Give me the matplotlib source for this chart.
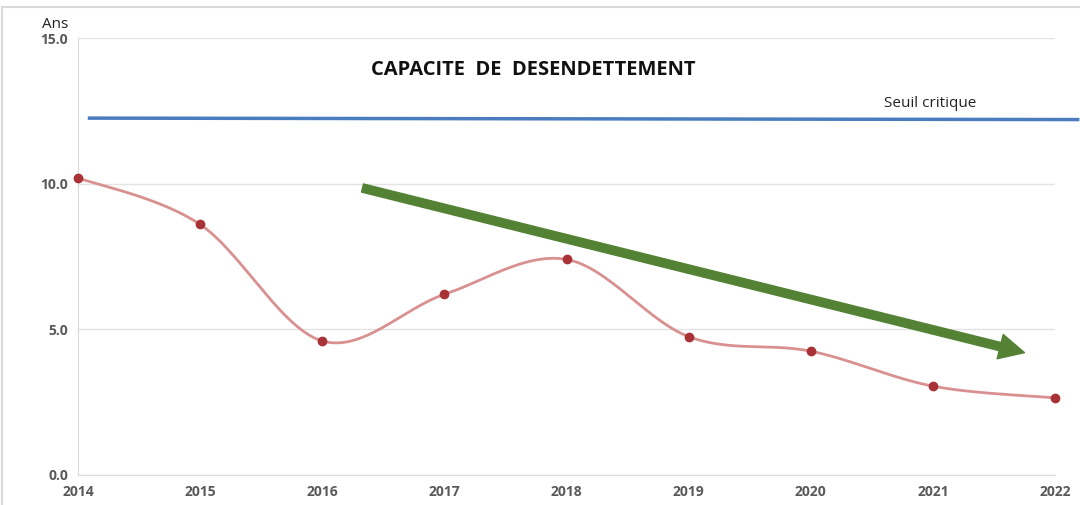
"""
Capacité de désendettement - recréation du graphique
"""

import matplotlib
matplotlib.use('Agg')
import matplotlib.pyplot as plt
from matplotlib.patches import Rectangle
import numpy as np

# données
annees = [2014, 2015, 2016, 2017, 2018, 2019, 2020, 2021, 2022]
capacite = [10.2, 8.6, 4.6, 6.2, 7.4, 4.75, 4.25, 3.05, 2.65]
seuil_debut, seuil_fin = 12.25, 12.2
fleche_debut = (2016.33, 9.85)
fleche_fin = (2021.75, 4.2)
yticks = [0, 5, 10, 15]

titre = 'CAPACITE  DE  DESENDETTEMENT'
label_seuil = 'Seuil critique'
label_axe = 'Ans'


def lisser(x, y, n=30):
    """Courbe lissée type Excel (Catmull-Rom) passant par les points"""
    x = np.asarray(x, float)
    y = np.asarray(y, float)
    px = np.concatenate([[x[0]], x, [x[-1]]])
    py = np.concatenate([[y[0]], y, [y[-1]]])
    xs, ys = [], []
    t = np.linspace(0, 1, n)
    for i in range(1, len(px) - 2):
        for p, out in ((px, xs), (py, ys)):
            p0, p1, p2, p3 = p[i - 1], p[i], p[i + 1], p[i + 2]
            m1 = (p2 - p0) / 2
            m2 = (p3 - p1) / 2
            h00 = 2 * t**3 - 3 * t**2 + 1
            h10 = t**3 - 2 * t**2 + t
            h01 = -2 * t**3 + 3 * t**2
            h11 = t**3 - t**2
            out.extend(h00 * p1 + h10 * m1 + h01 * p2 + h11 * m2)
    return np.array(xs), np.array(ys)


plt.rcParams['font.family'] = ['Open Sans', 'DejaVu Sans']

fig = plt.figure(figsize=(10.8, 5.05), dpi=100)
ax = fig.add_axes([78 / 1080, 30 / 505, 977 / 1080, 437 / 505])

# cadre extérieur gris
fig.patches.append(Rectangle((2 / 1080, -0.1), 1.2, (505 - 7) / 505 + 0.1,
                             transform=fig.transFigure, fill=False,
                             edgecolor='#d9d9d9', linewidth=1.5))

ax.set_xlim(annees[0], annees[-1])
ax.set_ylim(0, 15)
ax.set_yticks(yticks)
ax.set_yticklabels([f'{v:.1f}' for v in yticks])
ax.set_xticks(annees)
ax.set_xticklabels([str(a) for a in annees])
ax.grid(axis='y', color='#e3e3e3', linewidth=1)
ax.set_axisbelow(True)
for s in ['top', 'right']:
    ax.spines[s].set_visible(False)
for s in ['left', 'bottom']:
    ax.spines[s].set_color('#d9d9d9')
ax.tick_params(length=0, labelsize=10, labelcolor='#595959', pad=7)
for lab in ax.get_xticklabels() + ax.get_yticklabels():
    lab.set_fontweight('bold')

# seuil critique
ax.plot([2014.08, 2022.2], [seuil_debut, seuil_fin], color='#4a7cc0',
        linewidth=2.5, clip_on=False, solid_capstyle='butt')
ax.text(2020.98, seuil_fin + 0.3, label_seuil, fontsize=11, color='#222222',
        ha='center', va='bottom')

# courbe lissée + points
xs, ys = lisser(annees, capacite)
ax.plot(xs, ys, color='#d99090', linewidth=2, zorder=3)
ax.plot(annees, capacite, 'o', color='#a83236', markersize=6, zorder=4,
        clip_on=False)

# flèche tendance
ax.annotate('', xy=fleche_fin, xytext=fleche_debut,
            arrowprops=dict(facecolor='#548235', edgecolor='#548235',
                            width=6, headwidth=18, headlength=18, shrink=0))

ax.text(2017.73, 13.9, titre, fontsize=14.5, fontweight='bold', ha='center',
        va='center', color='#111111')
fig.text(55 / 1080, 1 - 24 / 505, label_axe, fontsize=11, ha='center',
         va='center', color='#222222')

fig.savefig('out.png', dpi=100)
